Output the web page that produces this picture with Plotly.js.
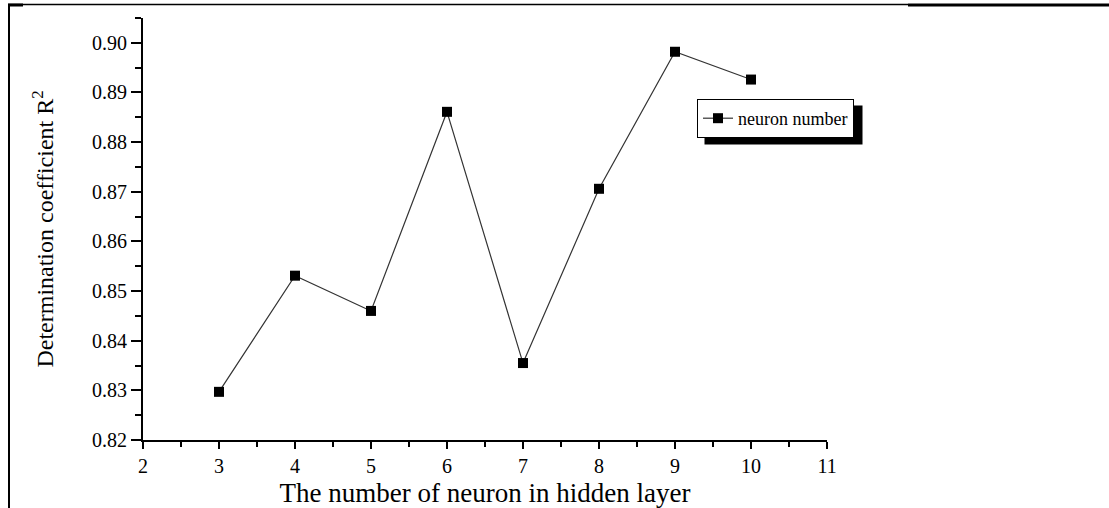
<!DOCTYPE html>
<html>
<head>
<meta charset="utf-8">
<script src="https://cdn.plot.ly/plotly-3.0.1.min.js"></script>
<style>
  html, body { margin: 0; padding: 0; background: #fff; }
  #chart { width: 1109px; height: 508px; }
</style>
</head>
<body>
<div id="chart"></div>
<script>
// ---- data ----
const neurons = [3, 4, 5, 6, 7, 8, 9, 10];
const r2 = [0.8297, 0.8531, 0.8460, 0.8861, 0.8355, 0.8706, 0.8982, 0.8926];
const seriesName = "neuron number";
const xTitle = "The number of neuron in hidden layer";
const yTitle = "Determination coefficient R<sup>2</sup>";

// ---- layout helpers ----
const W = 1109, H = 508;
const M = { l: 143, r: 282, t: 18, b: 68 };
const pw = W - M.l - M.r, ph = H - M.t - M.b;
const px = x => (x - M.l) / pw;
const py = y => (H - M.b - y) / ph;
const FONT = '"Liberation Serif", "Times New Roman", serif';

const trace = {
  x: neurons,
  y: r2,
  type: 'scatter',
  mode: 'lines+markers',
  name: seriesName,
  line: { color: '#333333', width: 1.2 },
  marker: { symbol: 'square', size: 10, color: '#000000' }
};

const axisCommon = {
  showline: true,
  linecolor: '#000',
  linewidth: 2,
  mirror: false,
  showgrid: false,
  zeroline: false,
  ticks: 'outside',
  tickcolor: '#000',
  tickwidth: 2,
  tickfont: { family: FONT, size: 20, color: '#000' },
  fixedrange: true
};

const layout = {
  width: W,
  height: H,
  margin: M,
  paper_bgcolor: '#fff',
  plot_bgcolor: '#fff',
  font: { family: FONT, color: '#000' },
  showlegend: true,
  xaxis: Object.assign({}, axisCommon, {
    range: [2, 11],
    dtick: 1,
    tick0: 2,
    ticklen: 7,
    minor: { dtick: 0.5, ticks: 'outside', ticklen: 5, tickwidth: 2, tickcolor: '#000' },
    title: { text: xTitle, font: { family: FONT, size: 27, color: '#000' }, standoff: 12 }
  }),
  yaxis: Object.assign({}, axisCommon, {
    range: [0.82, 0.905],
    dtick: 0.01,
    tick0: 0.82,
    tickformat: '.2f',
    ticklen: 10,
    minor: { dtick: 0.005, ticks: 'outside', ticklen: 6, tickwidth: 2, tickcolor: '#000' },
    title: { text: yTitle, font: { family: FONT, size: 24, color: '#000' }, standoff: 32 }
  }),
  legend: {
    x: px(697), y: py(99), xanchor: 'left', yanchor: 'top',
    bgcolor: '#ffffff', bordercolor: '#000', borderwidth: 1,
    font: { family: FONT, size: 18, color: '#000' },
    tracegroupgap: 0
  },
  shapes: [
    // legend shadow (placed after render to follow the legend box)
    { type: 'rect', xref: 'paper', yref: 'paper', layer: 'above',
      x0: px(704), x1: px(871), y0: py(113), y1: py(133),
      fillcolor: '#000', line: { width: 0 } },
    // outer frame: top line (thin part)
    { type: 'line', xref: 'paper', yref: 'paper',
      x0: px(8), x1: px(908), y0: py(4.5), y1: py(4.5),
      line: { color: '#000', width: 1.5 } },
    // top line (thick part)
    { type: 'line', xref: 'paper', yref: 'paper',
      x0: px(908), x1: px(1109), y0: py(5), y1: py(5),
      line: { color: '#000', width: 3 } },
    // top-left thick stub
    { type: 'line', xref: 'paper', yref: 'paper',
      x0: px(8), x1: px(23), y0: py(5), y1: py(5),
      line: { color: '#000', width: 3 } },
    // left line
    { type: 'line', xref: 'paper', yref: 'paper',
      x0: px(9), x1: px(9), y0: py(4), y1: py(508),
      line: { color: '#000', width: 2 } }
  ]
};

Plotly.newPlot('chart', [trace], layout, { staticPlot: true, displayModeBar: false }).then(gd => {
  const bg = gd.querySelector('.legend .bg');
  if (!bg) return;
  const root = gd.getBoundingClientRect();
  const bb = bg.getBoundingClientRect();
  const l = bb.left - root.left, t = bb.top - root.top;
  const r = l + bb.width, b = t + bb.height;
  return Plotly.relayout(gd, {
    'shapes[0].x0': px(l + 7), 'shapes[0].x1': px(r + 9),
    'shapes[0].y0': py(b + 7), 'shapes[0].y1': py(t + 6)
  });
});
</script>
</body>
</html>
